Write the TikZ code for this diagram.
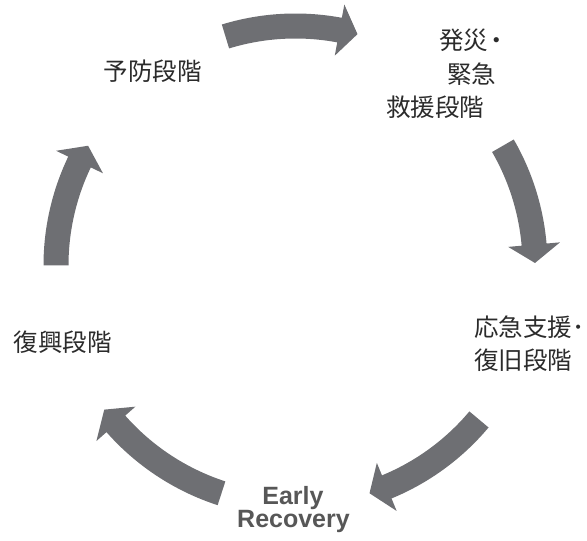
\documentclass[tikz,border=0pt]{standalone}
\usepackage{fontspec}
\setmainfont{Liberation Sans}
\newfontfamily\jpfont{Noto Sans CJK JP}
\definecolor{arrowgray}{HTML}{6E6F73}
\definecolor{jptext}{HTML}{2B2B2B}
\definecolor{entext}{HTML}{575757}
\newcommand\cyclearrow[2]{%
  \pgfmathsetmacro\hb{#2+4.4}%
  \fill[arrowgray] (#1:252) arc[start angle=#1, end angle=\hb, radius=252]
    -- (\hb:265.5) -- (#2:239.5) -- (\hb:213.5) -- (\hb:227)
    arc[start angle=\hb, end angle=#1, radius=227] -- cycle;}
\begin{document}
\begin{tikzpicture}[x=1pt,y=1pt,
  jp/.style={inner sep=0pt, font=\jpfont\fontsize{24.5}{24.5}\selectfont, text=jptext},
  en/.style={inner sep=0pt, anchor=base, font=\bfseries\fontsize{25}{25}\selectfont, text=entext}]
\useasboundingbox (0,0) rectangle (587,541);
\begin{scope}[shift={(295.5,275.5)}]
  \cyclearrow{107}{75}
  \cyclearrow{30}{0.6}
  \cyclearrow{-40}{-72}
  \cyclearrow{-108}{-143}
  \cyclearrow{-180}{-210}
\end{scope}
\node[jp, anchor=west] (h1) at (439,501) {発災\kern-0.15em・};
\node[jp, anchor=west] (h2) at (447,467) {緊急};
\node[jp, anchor=west] (h3) at (386,433.5) {救援段階};
\node[jp] (yobo) at (152.5,470) {予防段階};
\node[jp] (fukko) at (62.5,199) {復興段階};
\node[jp, anchor=west] (o1) at (474,214) {応急支援･};
\node[jp, anchor=west] (o2) at (474,181) {復旧段階};
\node[en] (early) at (293,36) {Early};
\node[en] (recov) at (293.5,13) {Recovery};
\end{tikzpicture}
\end{document}
